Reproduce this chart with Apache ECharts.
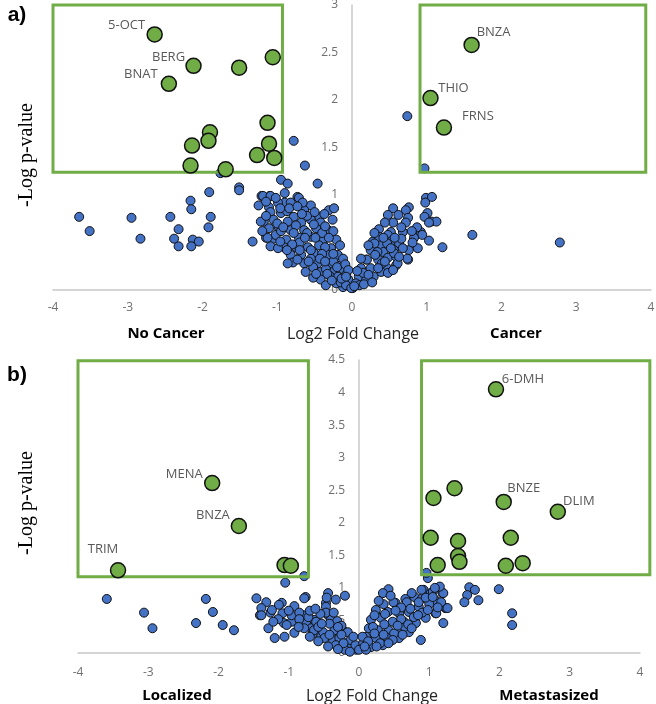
<!DOCTYPE html>
<html>
<head>
<meta charset="utf-8">
<script src="https://cdn.jsdelivr.net/npm/echarts@6/dist/echarts.min.js"></script>
<style>
  html, body { margin: 0; padding: 0; background: #fff; }
  #chart { width: 656px; height: 704px; }
</style>
</head>
<body>
<div id="chart"></div>
<script>
// ---- panel a) no cancer vs cancer ----
const aHits = [
  [-2.64, 2.69], [-2.12, 2.36], [-2.45, 2.17], [-1.51, 2.34], [-1.06, 2.45],
  [-1.13, 1.76], [-1.90, 1.66], [-1.92, 1.57], [-2.14, 1.52], [-1.11, 1.54],
  [-1.27, 1.42], [-1.04, 1.39], [-2.16, 1.31], [-1.69, 1.27],
  [1.60, 2.58], [1.05, 2.02], [1.23, 1.71]
];
const aHitNames = ['5-OCT', 'BERG', 'BNAT', '', '', '', '', '', '', '', '', '', '', '', 'BNZA', 'THIO', 'FRNS'];

const aOther = [
  // left, sparse
  [-0.78, 1.57], [-0.63, 1.31], [-1.76, 1.23], [-0.95, 1.16], [-0.86, 1.12], [-0.46, 1.12],
  [-1.51, 1.08], [-1.51, 1.05], [-1.91, 1.03], [-1.21, 0.99], [-1.10, 0.99], [-0.90, 1.02],
  [-0.73, 0.98], [-2.16, 0.94], [-2.15, 0.85], [-3.65, 0.77], [-2.95, 0.76], [-2.43, 0.77],
  [-1.89, 0.77], [-3.51, 0.62], [-2.32, 0.64], [-1.92, 0.66], [-2.83, 0.54], [-2.38, 0.54],
  [-2.13, 0.53], [-2.05, 0.51], [-2.32, 0.46], [-2.15, 0.46], [-1.33, 0.51],
  // left, dense
  [-1.19, 0.99], [-1.09, 0.99], [-0.71, 0.97], [-0.90, 0.92], [-1.11, 0.87], [-0.99, 0.92],
  [-0.82, 0.92], [-0.55, 0.89], [-0.64, 0.84], [-0.31, 0.84], [-0.24, 0.86], [-1.09, 0.82],
  [-0.95, 0.81], [-0.78, 0.77], [-0.44, 0.77], [-1.18, 0.72], [-1.05, 0.74], [-0.86, 0.72],
  [-0.68, 0.71], [-0.55, 0.74], [-0.42, 0.71], [-1.11, 0.65], [-0.98, 0.66], [-0.82, 0.63],
  [-0.64, 0.63], [-0.48, 0.65], [-0.32, 0.63], [-1.15, 0.55], [-1.05, 0.54], [-0.88, 0.53],
  [-0.71, 0.55], [-0.55, 0.56], [-0.38, 0.53], [-0.21, 0.53], [-1.09, 0.46], [-0.91, 0.45],
  [-0.75, 0.45], [-0.59, 0.45], [-0.44, 0.47], [-0.28, 0.44], [-0.82, 0.37], [-0.68, 0.37],
  [-0.51, 0.39], [-0.32, 0.37], [-0.19, 0.37], [-0.64, 0.28], [-0.46, 0.28], [-0.28, 0.28],
  [-0.15, 0.26], [-0.42, 0.19], [-0.25, 0.19], [-0.11, 0.21], [-0.42, 0.11], [-0.19, 0.14],
  [-0.05, 0.11], [-0.12, 0.03], [0.01, 0.02], [-1.25, 0.89], [-1.02, 0.58], [-0.79, 0.29],
  [-0.62, 0.19], [-0.52, 0.13], [-0.35, 0.05], [-0.21, 0.07], [-0.08, 0.16], [-1.22, 0.72],
  [-1.13, 0.55], [-0.99, 0.44], [-0.86, 0.28], [-0.95, 0.62], [-0.75, 0.68], [-0.60, 0.60],
  [-0.36, 0.45], [-0.25, 0.30], [-0.55, 0.33], [-0.70, 0.50], [-0.87, 0.83], [-0.66, 0.92],
  [-1.00, 0.70], [-0.40, 0.60], [-0.30, 0.15], [-0.15, 0.08], [-0.35, 0.22], [-0.52, 0.24],
  [-1.15, 0.93], [-1.02, 0.97], [-0.96, 0.86], [-0.84, 0.86], [-0.73, 0.88], [-0.60, 0.78],
  [-0.50, 0.82], [-0.37, 0.80], [-0.26, 0.74], [-1.15, 0.78], [-0.92, 0.66], [-0.78, 0.60],
  [-0.67, 0.80], [-0.51, 0.69], [-0.36, 0.67], [-0.25, 0.62], [-1.20, 0.62], [-0.96, 0.51],
  [-0.80, 0.48], [-0.63, 0.55], [-0.49, 0.55], [-0.31, 0.55], [-0.16, 0.47], [-0.87, 0.42],
  [-0.70, 0.42], [-0.55, 0.42], [-0.40, 0.38], [-0.25, 0.38], [-0.12, 0.33], [-0.73, 0.32],
  [-0.58, 0.30], [-0.43, 0.33], [-0.36, 0.30], [-0.20, 0.24], [-0.48, 0.17], [-0.33, 0.17],
  [-0.09, 0.27], [-0.27, 0.10], [-0.08, 0.05], [-0.14, 0.12],
  // right
  [0.74, 1.83], [0.97, 1.28], [1.61, 0.58], [2.78, 0.50], [0.99, 0.97], [1.07, 0.98],
  [0.98, 0.92], [1.01, 0.81], [0.97, 0.77], [1.06, 0.72], [1.13, 0.72], [1.03, 0.71],
  [0.92, 0.61], [0.94, 0.58], [1.03, 0.52], [1.21, 0.45], [0.55, 0.86], [0.76, 0.87],
  [0.72, 0.84], [0.48, 0.79], [0.75, 0.76], [0.55, 0.71], [0.72, 0.71], [0.36, 0.64],
  [0.52, 0.61], [0.68, 0.61], [0.28, 0.51], [0.36, 0.56], [0.48, 0.58], [0.39, 0.47],
  [0.52, 0.51], [0.63, 0.49], [0.76, 0.42], [0.88, 0.44], [0.25, 0.42], [0.42, 0.40],
  [0.56, 0.42], [0.19, 0.32], [0.35, 0.32], [0.48, 0.34], [0.59, 0.35], [0.75, 0.32],
  [0.59, 0.26], [0.46, 0.24], [0.12, 0.23], [0.25, 0.23], [0.39, 0.19], [0.48, 0.18],
  [0.29, 0.14], [0.09, 0.14], [0.19, 0.11], [0.05, 0.07], [-0.01, 0.02], [-0.05, 0.21],
  [-0.08, 0.14], [0.30, 0.49], [0.47, 0.49], [0.61, 0.28], [0.20, 0.32], [0.34, 0.40],
  [0.56, 0.39], [0.74, 0.33], [0.10, 0.05], [0.15, 0.18], [0.40, 0.28], [0.66, 0.54],
  [0.83, 0.55], [0.87, 0.66], [0.03, 0.04], [0.62, 0.79], [0.44, 0.71], [0.30, 0.60],
  [0.42, 0.55], [0.66, 0.66], [0.80, 0.62], [0.57, 0.55], [0.22, 0.47], [0.12, 0.33],
  [0.31, 0.37], [0.44, 0.30], [0.52, 0.44], [0.68, 0.44], [0.81, 0.50], [0.07, 0.20],
  [0.22, 0.16], [0.35, 0.23], [0.16, 0.06], [0.27, 0.08], [0.55, 0.21], [0.63, 0.35]
];

// significance boxes, [x1, y1, x2, y2]
const aBoxes = [[-4, 1.24, -0.93, 3], [0.91, 1.24, 3.93, 3]];

// ---- panel b) localized vs metastasized ----
const bHits = [
  [-2.09, 2.61], [-1.71, 1.95], [-3.43, 1.27], [-1.06, 1.35], [-0.97, 1.34],
  [1.95, 4.05], [1.36, 2.53], [1.06, 2.38], [2.06, 2.32], [2.83, 2.17],
  [1.02, 1.77], [1.41, 1.72], [2.16, 1.77], [1.41, 1.49], [1.43, 1.40],
  [1.12, 1.35], [2.09, 1.34], [2.33, 1.38]
];
const bHitNames = ['MENA', 'BNZA', 'TRIM', '', '', '6-DMH', '', '', 'BNZE', 'DLIM', '', '', '', '', '', '', '', ''];

const bOther = [
  // left
  [-0.78, 1.18], [-1.05, 1.08], [-3.59, 0.83], [-2.18, 0.83], [-2.08, 0.63], [-3.06, 0.62],
  [-2.94, 0.38], [-2.32, 0.46], [-1.94, 0.43], [-1.78, 0.35], [-0.76, 0.86], [-1.46, 0.84],
  [-1.32, 0.78], [-1.41, 0.58], [-1.26, 0.62], [-1.10, 0.77], [-0.92, 0.72], [-1.09, 0.61],
  [-0.96, 0.48], [-1.07, 0.46], [-1.29, 0.38], [-1.20, 0.23], [-1.06, 0.25], [-0.92, 0.31],
  [-0.79, 0.58], [-0.75, 0.48], [-0.64, 0.51], [-0.68, 0.38], [-0.61, 0.31], [-0.54, 0.25],
  [-0.44, 0.92], [-0.47, 0.77], [-0.20, 0.88], [-0.78, 0.84], [-0.47, 0.71], [-1.14, 0.74],
  [-1.24, 0.66], [-1.39, 0.69], [-1.39, 0.58], [-0.96, 0.58], [-0.72, 0.55], [-0.61, 0.48],
  [-0.44, 0.58], [-0.40, 0.51], [-0.31, 0.49], [-1.03, 0.43], [-0.78, 0.38], [-0.64, 0.35],
  [-0.51, 0.32], [-0.35, 0.35], [-0.23, 0.35], [-0.16, 0.32], [-0.49, 0.23], [-0.37, 0.20],
  [-0.28, 0.23], [-0.33, 0.12], [-0.18, 0.15], [-0.11, 0.09], [-0.04, 0.05], [-0.25, 0.42],
  [-0.12, 0.20], [-0.05, 0.12], [-0.44, 0.10], [-0.58, 0.40], [-0.85, 0.62], [-0.20, 0.05],
  [-0.47, 0.62], [-1.00, 0.65], [-0.85, 0.52], [-0.70, 0.65], [-0.55, 0.60], [-0.36, 0.62],
  [-0.30, 0.40], [-0.42, 0.45], [-0.53, 0.45], [-0.86, 0.40], [-0.70, 0.25], [-0.58, 0.18],
  [-0.42, 0.28], [-0.25, 0.28], [-0.22, 0.15], [-0.30, 0.06], [-0.13, 0.02], [-0.08, 0.25],
  [-1.15, 0.52], [-1.22, 0.48], [-0.62, 0.68], [-0.33, 0.82], [-0.46, 0.85],
  // right
  [0.98, 1.15], [0.92, 0.97], [1.02, 0.92], [1.19, 0.92], [0.42, 0.98], [0.34, 0.92],
  [0.52, 0.77], [0.66, 0.83], [0.79, 0.86], [0.90, 0.84], [0.85, 0.71], [1.09, 0.81],
  [1.23, 0.69], [1.09, 0.61], [1.20, 0.46], [0.88, 0.20], [0.24, 0.66], [0.41, 0.63],
  [0.57, 0.61], [0.71, 0.63], [0.95, 0.54], [0.17, 0.51], [0.31, 0.54], [0.48, 0.48],
  [0.64, 0.48], [0.81, 0.46], [0.14, 0.38], [0.27, 0.35], [0.42, 0.35], [0.59, 0.35],
  [0.71, 0.32], [0.10, 0.25], [0.24, 0.23], [0.41, 0.23], [0.57, 0.23], [0.06, 0.15],
  [0.17, 0.09], [0.34, 0.12], [0.00, 0.05], [0.10, 0.05], [1.99, 0.98], [1.57, 1.01],
  [1.65, 0.97], [1.54, 0.89], [1.70, 0.81], [1.50, 0.78], [2.18, 0.61], [2.18, 0.43],
  [1.10, 0.61], [1.24, 0.69], [1.20, 0.92], [1.17, 0.78], [0.96, 1.23], [1.05, 0.94],
  [0.89, 0.97], [0.68, 0.78], [0.49, 0.78], [1.26, 0.69], [0.75, 0.92], [0.60, 0.70],
  [0.35, 0.75], [0.20, 0.40], [0.50, 0.30], [0.65, 0.40], [0.90, 0.62], [0.30, 0.15],
  [0.05, 0.25], [0.78, 0.55], [1.00, 0.75], [0.45, 0.88], [0.28, 0.80], [0.22, 0.58],
  [0.37, 0.60], [0.52, 0.65], [0.60, 0.52], [0.73, 0.68], [0.85, 0.78], [0.95, 0.85],
  [1.05, 0.86], [1.12, 0.70], [0.98, 0.66], [0.84, 0.58], [0.70, 0.44], [0.55, 0.42],
  [0.36, 0.44], [0.22, 0.30], [0.35, 0.28], [0.48, 0.20], [0.62, 0.28], [0.75, 0.38],
  [0.13, 0.18], [0.25, 0.10], [0.08, 0.10], [0.42, 0.15], [1.15, 1.02], [1.08, 1.00]
];

const bBoxes = [[-4, 1.17, -0.72, 4.49], [0.89, 1.20, 4.14, 4.49]];

// where each metabolite name sits relative to its dot (px)
const labelOffsets = {
  '5-OCT': [-28, -9], 'BERG': [-25, -9], 'BNAT': [-28, -10],
  'BNZA': [22, -13], 'THIO': [23, -10], 'FRNS': [34, -11],
  'MENA': [-28, -9], 'TRIM': [-15, -21],
  '6-DMH': [27, -10], 'BNZE': [20, -14], 'DLIM': [21, -10]
};
const labelOffsetsB = { 'BNZA': [-26, -11] };

const GREEN = '#70AD47';
const BLUE = '#4472C4';
const TICK_COLOR = '#6f6f6f';
const AXIS_COLOR = '#c8c8c8';
const FONT = 'Open Sans';

function hitData(points, names, offsets) {
  return points.map((p, i) => {
    const name = names[i];
    const item = { value: p, name: name };
    if (name) {
      item.label = {
        show: true,
        formatter: name,
        position: 'inside',
        offset: offsets[name],
        color: '#595959',
        fontFamily: FONT,
        fontSize: 13
      };
    }
    return item;
  });
}

function xAxisOf(idx) {
  return {
    gridIndex: idx,
    type: 'value',
    min: -4,
    max: 4,
    interval: 1,
    axisLine: { show: true, onZero: true, lineStyle: { color: AXIS_COLOR, width: 1.5 } },
    axisTick: { show: false },
    splitLine: { show: false },
    axisLabel: { color: TICK_COLOR, fontFamily: FONT, fontSize: 12, margin: idx === 0 ? 12 : 14 }
  };
}

// the y axis sits on x = 0, so it is shifted right by half the grid width
function yAxisOf(idx, max, shift) {
  return {
    gridIndex: idx,
    type: 'value',
    position: 'left',
    offset: -shift,
    min: 0,
    max: max,
    interval: 0.5,
    axisLine: { show: true, onZero: false, lineStyle: { color: AXIS_COLOR, width: 1.5 } },
    axisTick: { show: false },
    splitLine: { show: false },
    axisLabel: { color: TICK_COLOR, fontFamily: FONT, fontSize: 12, margin: 14 }
  };
}

// green threshold box, drawn from data coords, not clipped to the grid
function renderBox(params, api) {
  const p1 = api.coord([api.value(0), api.value(3)]);
  const p2 = api.coord([api.value(2), api.value(1)]);
  return {
    type: 'rect',
    shape: { x: p1[0], y: p1[1], width: p2[0] - p1[0], height: p2[1] - p1[1] },
    style: { fill: 'none', stroke: GREEN, lineWidth: 3 }
  };
}

function panelSeries(idx, other, hits, names, offsets, boxes) {
  return [
    {
      type: 'scatter',
      xAxisIndex: idx,
      yAxisIndex: idx,
      data: other,
      symbolSize: 9,
      itemStyle: { color: BLUE, borderColor: '#111', borderWidth: 1, opacity: 1 },
      z: 2,
      silent: true
    },
    {
      type: 'custom',
      xAxisIndex: idx,
      yAxisIndex: idx,
      data: boxes,
      encode: { x: [0, 2], y: [1, 3] },
      renderItem: renderBox,
      clip: false,
      z: 3,
      silent: true
    },
    {
      type: 'scatter',
      xAxisIndex: idx,
      yAxisIndex: idx,
      data: hitData(hits, names, offsets),
      symbolSize: 15,
      itemStyle: { color: GREEN, borderColor: '#111', borderWidth: 1.5, opacity: 1 },
      z: 4,
      silent: true
    }
  ];
}

function text(x, y, str, style) {
  return {
    type: 'text',
    x: x,
    y: y,
    style: Object.assign({ text: str, align: 'center', verticalAlign: 'middle', fill: '#000', fontFamily: FONT }, style)
  };
}

function vText(x, y, str) {
  return {
    type: 'text', x: x, y: y, rotation: Math.PI / 2,
    style: { text: str, align: 'center', verticalAlign: 'middle', fill: '#000', fontFamily: 'Liberation Serif', fontSize: 20 }
  };
}

const chart = echarts.init(document.getElementById('chart'));
chart.setOption({
  animation: false,
  backgroundColor: '#fff',
  grid: [
    { left: 53, right: 5, top: 5, height: 285, outerBoundsMode: 'none' },
    { left: 78, right: 16, top: 360, bottom: 51, outerBoundsMode: 'none' }
  ],
  xAxis: [xAxisOf(0), xAxisOf(1)],
  yAxis: [yAxisOf(0, 3, 299), yAxisOf(1, 4.5, 281)],
  series: [].concat(
    panelSeries(0, aOther, aHits, aHitNames, labelOffsets, aBoxes),
    panelSeries(1, bOther, bHits, bHitNames, Object.assign({}, labelOffsets, labelOffsetsB), bBoxes)
  ),
  graphic: [
    text(17, 15, 'a)', { fontFamily: 'Liberation Sans', fontWeight: 'bold', fontSize: 21 }),
    text(17, 375, 'b)', { fontFamily: 'Liberation Sans', fontWeight: 'bold', fontSize: 21 }),
    vText(27, 155, '-Log p-value'),
    vText(27, 503, '-Log p-value'),
    text(166, 334, 'No Cancer', { fontWeight: 'bold', fontSize: 15 }),
    text(353, 334, 'Log2 Fold Change', { fontSize: 16, fill: '#262626' }),
    text(516, 334, 'Cancer', { fontWeight: 'bold', fontSize: 15 }),
    text(177, 696, 'Localized', { fontWeight: 'bold', fontSize: 15 }),
    text(372, 696, 'Log2 Fold Change', { fontSize: 16, fill: '#262626' }),
    text(549, 696, 'Metastasized', { fontWeight: 'bold', fontSize: 15 })
  ]
});
</script>
</body>
</html>
